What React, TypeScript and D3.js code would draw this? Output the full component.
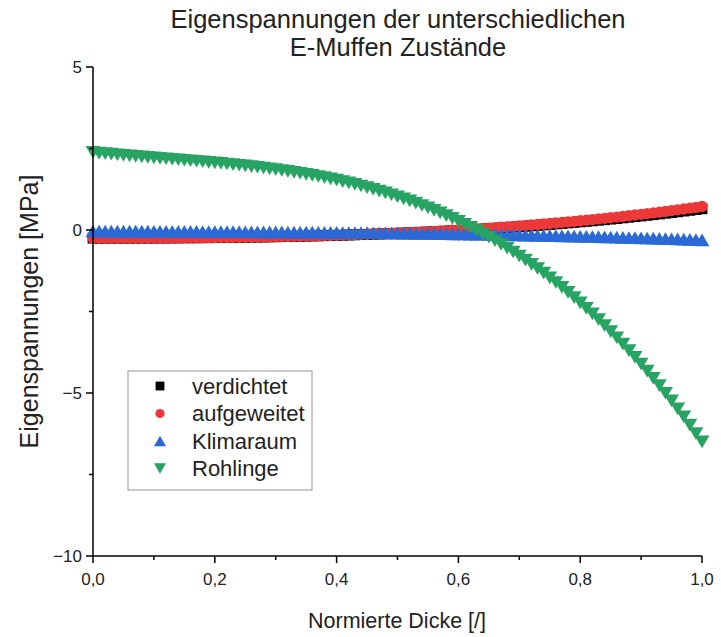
import React from "react";
import * as d3 from "d3";

// Normalised wall thickness, 0..1 in steps of 0.01
const xValues: number[] = Array.from({ length: 101 }, (_, i) => i / 100);

// Residual stress [MPa] per state
const verdichtet: number[] = [
  -0.250, -0.250, -0.250, -0.250, -0.250, -0.249, -0.249, -0.248, -0.248, -0.247,
  -0.247, -0.246, -0.245, -0.244, -0.243, -0.241, -0.240, -0.239, -0.237, -0.235,
  -0.234, -0.232, -0.229, -0.227, -0.225, -0.222, -0.220, -0.217, -0.214, -0.211,
  -0.207, -0.204, -0.200, -0.197, -0.193, -0.188, -0.184, -0.179, -0.175, -0.170,
  -0.165, -0.159, -0.154, -0.148, -0.142, -0.136, -0.129, -0.123, -0.116, -0.109,
  -0.101, -0.093, -0.086, -0.078, -0.069, -0.061, -0.052, -0.043, -0.033, -0.024,
  -0.014, -0.004, 0.007, 0.018, 0.029, 0.040, 0.052, 0.064, 0.076, 0.088,
  0.101, 0.115, 0.128, 0.142, 0.156, 0.171, 0.185, 0.200, 0.216, 0.232,
  0.248, 0.264, 0.281, 0.299, 0.316, 0.334, 0.352, 0.371, 0.390, 0.410,
  0.430, 0.450, 0.470, 0.491, 0.513, 0.535, 0.557, 0.580, 0.603, 0.626,
  0.650,
];

const aufgeweitet: number[] = [
  -0.250, -0.250, -0.250, -0.250, -0.249, -0.249, -0.249, -0.248, -0.248, -0.247,
  -0.246, -0.246, -0.245, -0.244, -0.242, -0.241, -0.240, -0.238, -0.237, -0.235,
  -0.233, -0.231, -0.229, -0.226, -0.224, -0.221, -0.218, -0.215, -0.212, -0.209,
  -0.206, -0.202, -0.198, -0.194, -0.190, -0.185, -0.181, -0.176, -0.171, -0.166,
  -0.160, -0.154, -0.148, -0.142, -0.136, -0.129, -0.122, -0.115, -0.108, -0.100,
  -0.093, -0.084, -0.076, -0.067, -0.058, -0.049, -0.040, -0.030, -0.020, -0.009,
  0.001, 0.012, 0.024, 0.035, 0.047, 0.059, 0.072, 0.085, 0.098, 0.111,
  0.125, 0.140, 0.154, 0.169, 0.184, 0.200, 0.216, 0.232, 0.249, 0.266,
  0.284, 0.302, 0.320, 0.339, 0.358, 0.377, 0.397, 0.417, 0.438, 0.459,
  0.481, 0.503, 0.525, 0.548, 0.571, 0.595, 0.619, 0.643, 0.669, 0.694,
  0.720,
];

const klimaraum: number[] = [
  -0.030, -0.031, -0.032, -0.032, -0.033, -0.034, -0.035, -0.036, -0.037, -0.037,
  -0.038, -0.039, -0.040, -0.041, -0.042, -0.043, -0.044, -0.045, -0.046, -0.047,
  -0.048, -0.049, -0.050, -0.051, -0.052, -0.053, -0.054, -0.055, -0.057, -0.058,
  -0.059, -0.060, -0.062, -0.063, -0.065, -0.066, -0.068, -0.069, -0.071, -0.073,
  -0.074, -0.076, -0.078, -0.080, -0.081, -0.083, -0.085, -0.087, -0.089, -0.092,
  -0.094, -0.096, -0.098, -0.101, -0.103, -0.106, -0.108, -0.111, -0.114, -0.116,
  -0.119, -0.122, -0.125, -0.128, -0.131, -0.134, -0.137, -0.141, -0.144, -0.148,
  -0.151, -0.155, -0.159, -0.163, -0.166, -0.170, -0.175, -0.178, -0.183, -0.187,
  -0.191, -0.196, -0.200, -0.205, -0.210, -0.215, -0.220, -0.225, -0.230, -0.235,
  -0.241, -0.246, -0.252, -0.257, -0.263, -0.269, -0.275, -0.281, -0.287, -0.294,
  -0.300,
];

const rohlinge: number[] = [
  2.380, 2.361, 2.343, 2.325, 2.308, 2.292, 2.276, 2.260, 2.244, 2.229,
  2.214, 2.200, 2.185, 2.170, 2.155, 2.140, 2.124, 2.109, 2.093, 2.077,
  2.060, 2.043, 2.025, 2.006, 1.987, 1.967, 1.946, 1.924, 1.901, 1.877,
  1.852, 1.826, 1.799, 1.770, 1.740, 1.708, 1.676, 1.641, 1.605, 1.567,
  1.527, 1.486, 1.443, 1.397, 1.350, 1.300, 1.249, 1.195, 1.139, 1.081,
  1.020, 0.957, 0.891, 0.823, 0.752, 0.678, 0.602, 0.523, 0.440, 0.355,
  0.267, 0.176, 0.081, -0.017, -0.118, -0.222, -0.330, -0.441, -0.556, -0.675,
  -0.797, -0.923, -1.053, -1.187, -1.324, -1.466, -1.611, -1.761, -1.915, -2.074,
  -2.236, -2.403, -2.574, -2.751, -2.931, -3.117, -3.306, -3.501, -3.701, -3.905,
  -4.115, -4.330, -4.550, -4.776, -5.007, -5.243, -5.486, -5.734, -5.988, -6.247,
  -6.497,
];

const xTicks: number[] = [0, 0.2, 0.4, 0.6, 0.8, 1.0];
const xMinorTicks: number[] = [0.1, 0.3, 0.5, 0.7, 0.9];
const yTicks: number[] = [5, 0, -5, -10];
const yMinorTicks: number[] = [2.5, -2.5, -7.5];

const titleLines: string[] = ["Eigenspannungen der unterschiedlichen", "E-Muffen Zustände"];
const xLabel = "Normierte Dicke [/]";
const yLabel = "Eigenspannungen [MPa]";

type Shape = "square" | "circle" | "triangleUp" | "triangleDown";

const seriesNames: string[] = ["verdichtet", "aufgeweitet", "Klimaraum", "Rohlinge"];
const seriesValues: number[][] = [verdichtet, aufgeweitet, klimaraum, rohlinge];
const seriesColors: string[] = ["#000000", "#ec3838", "#2b69d6", "#27a463"];
const seriesShapes: Shape[] = ["square", "circle", "triangleUp", "triangleDown"];

const W = 721;
const H = 637;
const margin = { left: 93, right: 19, top: 67, bottom: 81 };
const FONT = "'Liberation Sans', Arial, sans-serif";

function Marker({ shape, x, y, color, s }: { shape: Shape; x: number; y: number; color: string; s: number }) {
  if (shape === "square") {
    return <rect x={x - s * 0.4} y={y - s * 0.4} width={s * 0.8} height={s * 0.8} fill={color} />;
  }
  if (shape === "circle") {
    return <circle cx={x} cy={y} r={s * 0.42} fill={color} />;
  }
  const hw = s * 0.55;
  const hh = s * 0.47;
  if (shape === "triangleUp") {
    return <path d={`M${x},${y - hh}L${x + hw},${y + hh}L${x - hw},${y + hh}Z`} fill={color} />;
  }
  return <path d={`M${x - hw},${y - hh}L${x + hw},${y - hh}L${x},${y + hh}Z`} fill={color} />;
}

export default function App() {
  const x = d3.scaleLinear().domain([0, 1]).range([margin.left, W - margin.right]);
  const y = d3.scaleLinear().domain([-10, 5]).range([H - margin.bottom, margin.top]);
  const x0 = x(0);
  const y0 = y(-10);
  const fmtX = (v: number) => d3.format(".1f")(v).replace(".", ",");
  const fmtY = (v: number) => (v < 0 ? "\u2212" + Math.abs(v) : String(v));

  const legendX = 128;
  const legendY = 371;
  const rowH = 27.5;

  return (
    <svg width={W} height={H} style={{ position: "absolute", left: 0, top: 0, background: "#fff" }} fontFamily={FONT}>
      <rect x={0} y={0} width={W} height={H} fill="#fff" />
      {titleLines.map((t, i) => (
        <text key={t} x={398} y={28 + i * 28} textAnchor="middle" fontSize={25.5} fill="#222">
          {t}
        </text>
      ))}

      {/* data markers */}
      {seriesValues.map((vals, si) => (
        <g key={seriesNames[si]}>
          {vals.map((v, i) => (
            <Marker key={i} shape={seriesShapes[si]} x={x(xValues[i])} y={y(v)} color={seriesColors[si]} s={13.5} />
          ))}
        </g>
      ))}

      {/* axes */}
      <line x1={x0} y1={y(5)} x2={x0} y2={y0} stroke="#000" strokeWidth={1.5} />
      <line x1={x0} y1={y0} x2={x(1)} y2={y0} stroke="#000" strokeWidth={1.5} />
      {yTicks.map((t) => (
        <g key={`yt${t}`}>
          <line x1={x0 - 7} x2={x0} y1={y(t)} y2={y(t)} stroke="#000" strokeWidth={1.5} />
          <text x={x0 - 11} y={y(t)} dy="0.35em" textAnchor="end" fontSize={17} fill="#222">
            {fmtY(t)}
          </text>
        </g>
      ))}
      {yMinorTicks.map((t) => (
        <line key={`ym${t}`} x1={x0 - 4} x2={x0} y1={y(t)} y2={y(t)} stroke="#000" strokeWidth={1.5} />
      ))}
      {xTicks.map((t) => (
        <g key={`xt${t}`}>
          <line x1={x(t)} x2={x(t)} y1={y0} y2={y0 + 7} stroke="#000" strokeWidth={1.5} />
          <text x={x(t)} y={y0 + 29} textAnchor="middle" fontSize={17} fill="#222">
            {fmtX(t)}
          </text>
        </g>
      ))}
      {xMinorTicks.map((t) => (
        <line key={`xm${t}`} x1={x(t)} x2={x(t)} y1={y0} y2={y0 + 4} stroke="#000" strokeWidth={1.5} />
      ))}

      <text x={397} y={628} textAnchor="middle" fontSize={21.5} fill="#222">
        {xLabel}
      </text>
      <text transform={`translate(38, ${(y(5) + y0) / 2}) rotate(-90)`} textAnchor="middle" fontSize={25} fill="#222">
        {yLabel}
      </text>

      {/* legend */}
      <rect x={legendX} y={legendY} width={184} height={119} fill="#fff" stroke="#999" strokeWidth={1} />
      {seriesNames.map((n, i) => (
        <g key={`lg${n}`}>
          <Marker shape={seriesShapes[i]} x={legendX + 32} y={legendY + 15 + i * rowH} color={seriesColors[i]} s={11} />
          <text x={legendX + 64} y={legendY + 15 + i * rowH} dy="0.35em" fontSize={22} fill="#222">
            {n}
          </text>
        </g>
      ))}
    </svg>
  );
}
